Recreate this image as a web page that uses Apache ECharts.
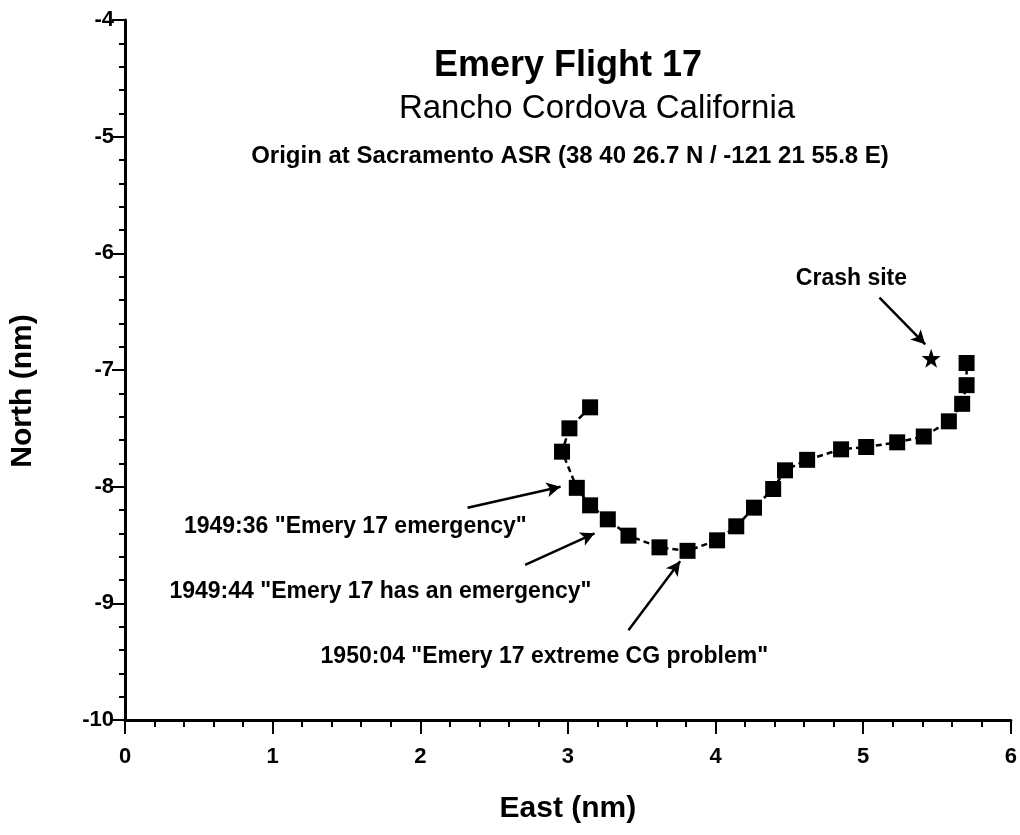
<!DOCTYPE html>
<html>
<head>
<meta charset="utf-8">
<script src="https://cdn.jsdelivr.net/npm/echarts@6/dist/echarts.min.js"></script>
<style>
  html, body { margin: 0; padding: 0; background: #fff; }
  #container { width: 1020px; height: 835px; }
</style>
</head>
<body>
<div id="container"></div>
<script>
// track points, East (nm) / North (nm)
var east = [3.15, 3.01, 2.96, 3.06, 3.15, 3.27, 3.41, 3.62, 3.81, 4.01, 4.14, 4.26,
  4.39, 4.47, 4.62, 4.85, 5.02, 5.23, 5.41, 5.58, 5.67, 5.70, 5.70];
var north = [-7.32, -7.50, -7.70, -8.01, -8.16, -8.28, -8.42, -8.52, -8.55, -8.46, -8.34, -8.18,
  -8.02, -7.86, -7.77, -7.68, -7.66, -7.62, -7.57, -7.44, -7.29, -7.13, -6.94];

var crashSite = [5.46, -6.90];

// annotations: text, text position, arrow start, arrow end
var noteTexts = ['1949:36 "Emery 17 emergency"', '1949:44 "Emery 17 has an emergency"',
  '1950:04 "Emery 17 extreme CG problem"', 'Crash site'];
var notePos = [[1.56, -8.34], [1.73, -8.90], [2.84, -9.46], [4.92, -6.22]];
var arrowFrom = [[2.32, -8.18], [2.71, -8.67], [3.41, -9.23], [5.11, -6.38]];
var arrowTo = [[2.95, -8.00], [3.18, -8.40], [3.76, -8.64], [5.42, -6.78]];

var titleLines = ['Emery Flight 17', 'Rancho Cordova California',
  'Origin at Sacramento ASR (38 40 26.7 N / -121 21 55.8 E)'];

var font = 'Liberation Sans, Arial, sans-serif';
var dom = document.getElementById('container');
var myChart = echarts.init(dom, null, { renderer: 'canvas' });

var track = east.map(function (x, i) { return [x, north[i]]; });

var arrows = arrowFrom.map(function (p, i) {
  return [{ coord: p }, { coord: arrowTo[i] }];
});

var notes = notePos.map(function (p, i) {
  return { value: p, label: { formatter: noteTexts[i] } };
});

var option = {
  animation: false,
  backgroundColor: '#fff',
  grid: { left: 125, right: 9, top: 20, bottom: 115 },
  graphic: [
    { type: 'text', x: 568, y: 48, style: { text: titleLines[0], font: 'bold 36px ' + font, fill: '#000', textAlign: 'center' } },
    { type: 'text', x: 597, y: 92, style: { text: titleLines[1], font: '33px ' + font, fill: '#000', textAlign: 'center' } },
    { type: 'text', x: 570, y: 144, style: { text: titleLines[2], font: 'bold 24px ' + font, fill: '#000', textAlign: 'center' } },
    { type: 'text', x: 8, y: 391, rotation: Math.PI / 2,
      style: { text: 'North (nm)', font: 'bold 30px ' + font, fill: '#000', textAlign: 'center', textVerticalAlign: 'top' } }
  ],
  xAxis: {
    type: 'value',
    min: 0, max: 6, interval: 1,
    name: 'East (nm)',
    nameLocation: 'middle',
    nameGap: 74,
    nameTextStyle: { fontSize: 30, fontWeight: 'bold', color: '#000', fontFamily: font },
    axisLine: { show: true, onZero: false, lineStyle: { color: '#000', width: 3 } },
    axisTick: { show: true, length: 14, lineStyle: { color: '#000', width: 2 } },
    minorTick: { show: true, splitNumber: 5, length: 7, lineStyle: { color: '#000', width: 2 } },
    axisLabel: { fontSize: 22, fontWeight: 'bold', color: '#000', margin: 26, fontFamily: font },
    splitLine: { show: false }
  },
  yAxis: {
    type: 'value',
    min: -10, max: -4, interval: 1,
    axisLine: { show: true, onZero: false, lineStyle: { color: '#000', width: 3 } },
    axisTick: { show: true, length: 13, lineStyle: { color: '#000', width: 2 } },
    minorTick: { show: true, splitNumber: 5, length: 6, lineStyle: { color: '#000', width: 2 } },
    axisLabel: { fontSize: 22, fontWeight: 'bold', color: '#000', margin: 11, fontFamily: font },
    splitLine: { show: false }
  },
  series: [
    {
      name: 'track',
      type: 'line',
      data: track,
      symbol: 'rect',
      symbolSize: 16,
      itemStyle: { color: '#000', opacity: 1 },
      lineStyle: { color: '#000', width: 2.5, type: [6, 4] },
      markLine: {
        silent: true,
        symbol: ['none', 'arrow'],
        symbolSize: [11, 14],
        label: { show: false },
        lineStyle: { color: '#000', width: 2.5, type: 'solid' },
        data: arrows
      }
    },
    {
      name: 'crash',
      type: 'scatter',
      data: [crashSite],
      symbol: 'path://M0,-10 L2.35,-3.24 L9.51,-3.09 L3.8,1.24 L5.88,8.09 L0,4 L-5.88,8.09 L-3.8,1.24 L-9.51,-3.09 L-2.35,-3.24 Z',
      symbolSize: 19,
      itemStyle: { color: '#000', opacity: 1 }
    },
    {
      name: 'notes',
      type: 'scatter',
      data: notes,
      symbolSize: 0,
      itemStyle: { opacity: 1 },
      label: {
        show: true,
        position: 'inside',
        color: '#000',
        fontSize: 23,
        fontWeight: 'bold',
        fontFamily: font
      }
    }
  ]
};

myChart.setOption(option);
window.addEventListener('resize', myChart.resize);
</script>
</body>
</html>
